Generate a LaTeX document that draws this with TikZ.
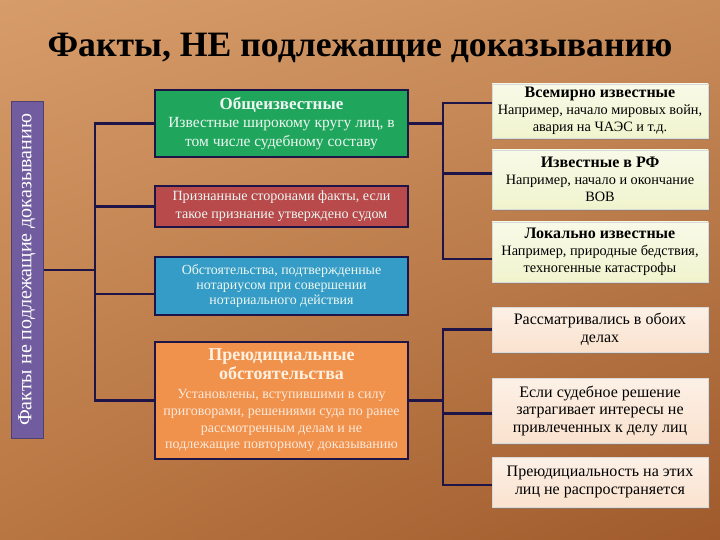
\documentclass[tikz,border=0pt]{standalone}
\usepackage{fontspec}
\setmainfont{Liberation Serif}
\usetikzlibrary{positioning,shadows,shadings}
\definecolor{bgtl}{RGB}{214,156,106}
\definecolor{bgtr}{RGB}{200,140,90}
\definecolor{bgbl}{RGB}{184,118,66}
\definecolor{bgbr}{RGB}{160,90,44}
\definecolor{navy}{RGB}{30,20,72}
\definecolor{vio}{RGB}{112,92,158}
\definecolor{grn}{RGB}{32,166,92}
\definecolor{rd}{RGB}{184,74,76}
\definecolor{blu}{RGB}{52,156,198}
\definecolor{orn}{RGB}{240,146,76}
\definecolor{ylw}{RGB}{240,244,205}
\definecolor{pch}{RGB}{250,226,206}
\newcommand\fsz[2]{\fontsize{#1}{#2}\selectfont}
\tikzset{
  mid/.style   ={draw=navy,line width=1.5pt,minimum width=253pt,inner sep=1pt,align=center,
                 text=white!92!grn},
  side/.style  ={draw=white!70!gray,line width=0.6pt,minimum width=216pt,inner sep=1pt,align=center,
                 drop shadow={shadow xshift=1.5pt,shadow yshift=-2pt,opacity=0.45}},
  upper/.style ={side,top color=white!55!ylw,bottom color=ylw,font=\fsz{14.3}{17}},
  lower/.style ={side,top color=white!50!pch,bottom color=pch,font=\fsz{16}{18.5}},
  bus/.style   ={draw=navy,line width=2.6pt},
}
\begin{document}
\begin{tikzpicture}[x=1pt,y=-1pt]
  \shade[upper left=bgtl,upper right=bgtr,lower left=bgbl,lower right=bgbr] (0,0) rectangle (720,540);
  \useasboundingbox (0,0) rectangle (720,540);
  \node (title) at (360,48){\fsz{35.7}{38}\bfseries Факты, НЕ подлежащие доказыванию};
  \node[draw=vio!70!black,line width=1pt,fill=vio,rotate=90,minimum width=336pt,minimum height=32pt,
        inner sep=1pt,text=white,font=\fsz{20}{20}] (vert) at (27,270){Факты не подлежащие доказыванию};
  % middle column
  \node[mid,fill=grn,minimum height=67pt,font=\fsz{15.5}{18.5}] (obsch) at (281.5,123.5)
    {{\fsz{17}{18.5}\bfseries Общеизвестные}\\Известные широкому кругу лиц, в\\том числе судебному составу};
  \node[mid,fill=rd,minimum height=41pt,font=\fsz{14.1}{18}] (priz) at (281.5,206.5)
    {Признанные сторонами факты, если\\такое признание утверждено судом};
  \node[mid,fill=blu,minimum height=58pt,font=\fsz{13.9}{15.3}] (notar) at (281.5,286)
    {Обстоятельства, подтвержденные\\нотариусом при совершении\\нотариального действия};
  \node[mid,fill=orn,minimum height=117pt,text=white!80!orn,font=\fsz{14}{16.8}] (prejud) at (281.5,400.5)
    {{\fsz{18}{19}\bfseries\color{white!88!orange} Преюдициальные}\\[2pt]{\fsz{18}{19}\bfseries\color{white!88!orange} обстоятельства}\\[2pt]Установлены, вступившими в силу\\приговорами, решениями суда по ранее\\рассмотренным делам и не\\подлежащие повторному доказыванию};
  % right column
  \node[upper,minimum height=54pt] (mir) at (600,111)
    {{\fsz{16}{17}\bfseries Всемирно известные}\\Например, начало мировых войн,\\авария на ЧАЭС и т.д.};
  \node[upper,minimum height=59pt] (rf) at (600,179.5)
    {{\fsz{16}{17}\bfseries Известные в РФ}\\Например, начало и окончание\\ВОВ};
  \node[upper,minimum height=60pt] (lok) at (600,252)
    {{\fsz{16}{17}\bfseries Локально известные}\\Например, природные бедствия,\\техногенные катастрофы};
  \node[lower,minimum height=45pt] (rassm) at (600,329.5)
    {Рассматривались в обоих\\делах};
  \node[lower,minimum height=65pt,font=\fsz{16}{17.5}] (esli) at (600,410.5)
    {Если судебное решение\\затрагивает интересы не\\привлеченных к делу лиц};
  \node[lower,minimum height=50pt] (nera) at (600,482)
    {Преюдициальность на этих\\лиц не распространяется};
  % connectors
  \coordinate (lb) at (95,270);
  \coordinate (rt) at (443,125);
  \coordinate (rb) at (443,402);
  \draw[bus] (vert.south) -- (lb);
  \draw[bus] (obsch.west) -| (lb) |- (prejud.west);
  \draw[bus] (priz.west) -- (priz.west -| lb);
  \draw[bus] ([yshift=-8pt]notar.west) -- ([yshift=-8pt]notar.west -| lb);
  \draw[bus] (obsch.east) -- (obsch.east -| rt);
  \draw[bus] ([yshift=8pt]mir.west) -| (rt) |- ([yshift=-7pt]lok.west);
  \draw[bus] ([yshift=6pt]rf.west) -- ([yshift=6pt]rf.west -| rt);
  \draw[bus] (prejud.east) -- (prejud.east -| rb);
  \draw[bus] (rassm.west) -| (rb) |- ([yshift=-3pt]nera.west);
  \draw[bus] ([yshift=-3pt]esli.west) -- ([yshift=-3pt]esli.west -| rb);
\end{tikzpicture}
\end{document}
